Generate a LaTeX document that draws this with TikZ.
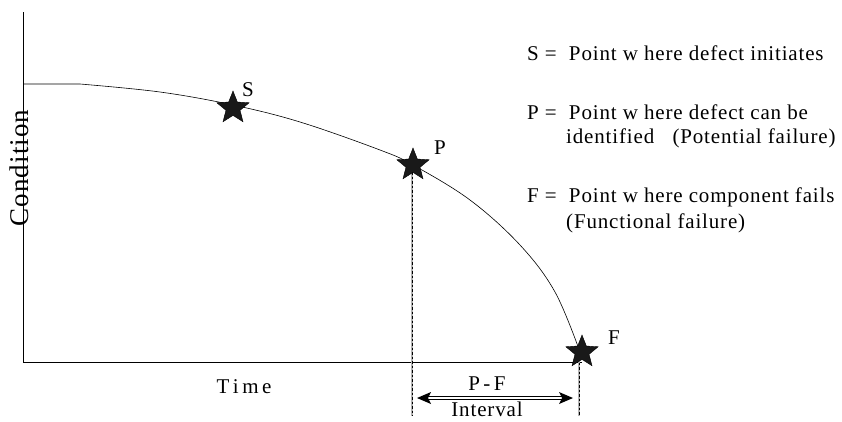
\documentclass[tikz,border=0pt]{standalone}
\usepackage{fontspec}
\setmainfont{Liberation Serif}[LetterSpace=4]
\usetikzlibrary{shapes.geometric,arrows.meta}
\begin{document}
\begin{tikzpicture}[x=1pt,y=-1pt,
  txt/.style={font=\fontsize{21}{25}\selectfont, inner sep=0pt},
  legend/.style={txt, anchor=west},
  starmark/.style={star, star points=5, star point ratio=2.3, minimum size=34pt, inner sep=0pt, fill=black!90, draw=black},
  guide/.style={draw=gray!60, line width=2pt},
  guidedash/.style={draw=black, line width=1pt, dash pattern=on 2.5pt off 2pt},
  tipline/.style={line width=0.7pt}]
\useasboundingbox (0,0) rectangle (842,421);
\coordinate (top) at (23,12);
\coordinate (origin) at (23,362);
\coordinate (xend) at (582,362);
\draw[line width=0.8pt] (top) -- (origin) -- (xend);
% curve
\draw[line width=0.6pt] (23,84) -- (80,84)
  plot[smooth, tension=0.6] coordinates {(80,84) (160,92) (233,105) (300,122) (380,150) (413,165) (470,200) (520,245) (555,292) (580,352)};
% dashed guides
\coordinate (pTop) at (412,172);
\coordinate (pBot) at (412,416);
\coordinate (fTop) at (579,358);
\coordinate (fBot) at (579,416);
\draw[guide] (pTop) -- (pBot);
\draw[guidedash] (pTop) -- (pBot);
\draw[guide] (fTop) -- (fBot);
\draw[guidedash] (fTop) -- (fBot);
% stars
\node[starmark] (S) at (233,108) {};
\node[starmark] (P) at (413,165) {};
\node[starmark] (F) at (582,352) {};
\node[txt] (Sl) at (248,90) {S};
\node[txt] (Pl) at (440,148) {P};
\node[txt] (Fl) at (614,338) {F};
% interval arrow (double line)
\coordinate (aL) at (417,398);
\coordinate (aR) at (573,398);
\draw[tipline] ([xshift=10pt,yshift=-1.6pt]aL) -- ([xshift=-10pt,yshift=-1.6pt]aR);
\draw[tipline] ([xshift=10pt,yshift=1.6pt]aL) -- ([xshift=-10pt,yshift=1.6pt]aR);
\fill (aL) -- ([xshift=14pt,yshift=-6pt]aL) -- ([xshift=11pt]aL) -- ([xshift=14pt,yshift=6pt]aL) -- cycle;
\fill (aR) -- ([xshift=-14pt,yshift=-6pt]aR) -- ([xshift=-11pt]aR) -- ([xshift=-14pt,yshift=6pt]aR) -- cycle;
\node[txt] (pf) at (487,384) {P\,-\,F};
\node[txt] (iv) at (487,409) {Interval};
% axis labels
\node[txt] (time) at (244,387) {T\,i\,m\,e};
\node[txt, font=\fontsize{27}{30}\selectfont, rotate=90] (cond) at (19,168) {Condition};
% legend
\node[legend] (l1) at (527,53) {S =\ \ Point w here defect initiates};
\node[legend] (l2) at (527,112) {P =\ \ Point w here defect can be};
\node[legend] (l3) at (566,138) {identified\ \ \ (Potential failure)};
\node[legend] (l4) at (527,197) {F =\ \ Point w here component fails};
\node[legend] (l5) at (566,223) {(Functional failure)};
\end{tikzpicture}
\end{document}
